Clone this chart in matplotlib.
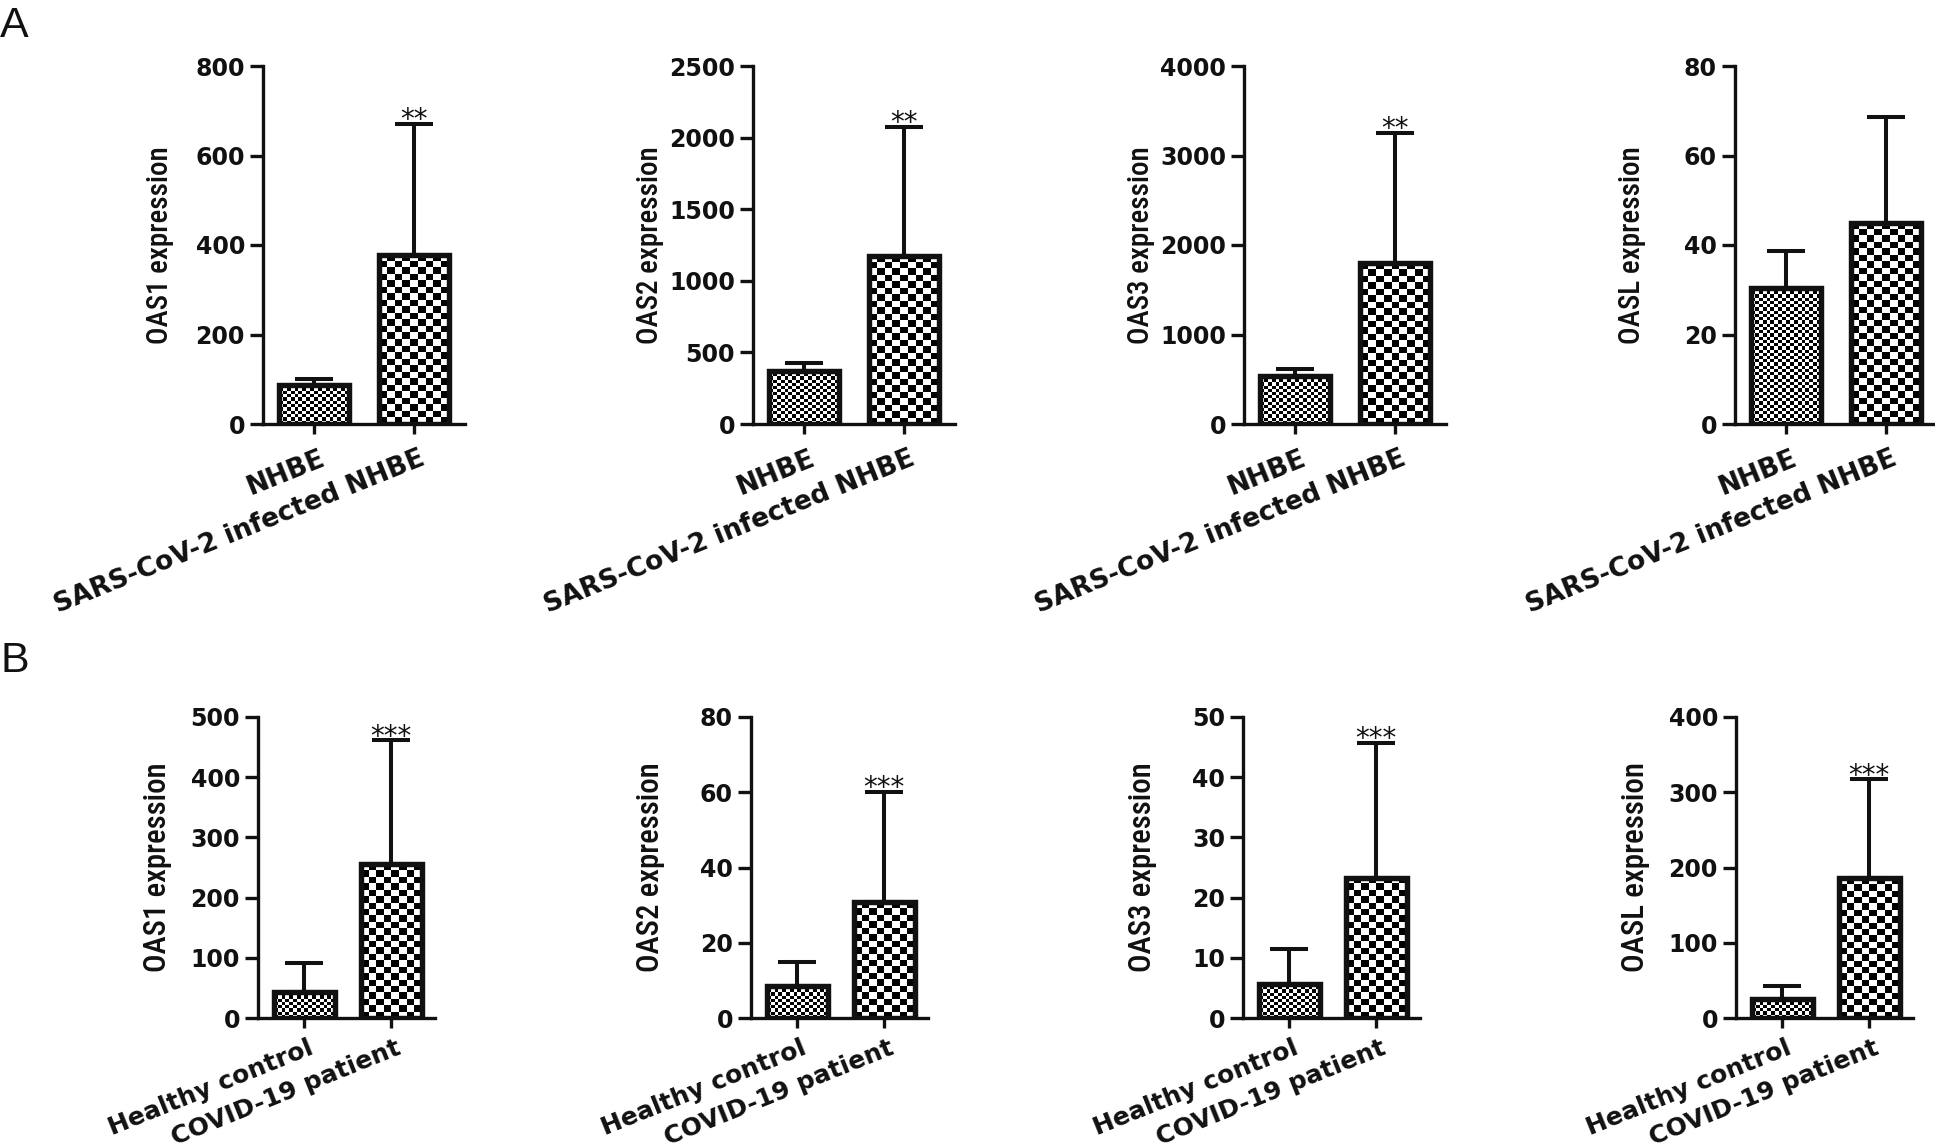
import numpy as np
import matplotlib
matplotlib.use("Agg")
import matplotlib.pyplot as plt
from matplotlib import font_manager
from matplotlib.transforms import ScaledTranslation

# ---------------- data ----------------
genes = ["OAS1", "OAS2", "OAS3", "OASL"]

groups_A = ["NHBE", "SARS-CoV-2 infected NHBE"]
A_means = [[88, 378], [372, 1175], [535, 1795], [30.3, 45]]
A_upper = [[100, 670], [425, 2075], [610, 3255], [38.7, 68.5]]
A_ymax = [800, 2500, 4000, 80]
A_ystep = [200, 500, 1000, 20]
A_stars = ["**", "**", "**", ""]

groups_B = ["Healthy control", "COVID-19 patient"]
B_means = [[43, 255], [8.5, 30.7], [5.7, 23.3], [25.6, 186]]
B_upper = [[92, 461], [15, 60], [11.4, 45.7], [43, 317]]
B_ymax = [500, 80, 50, 400]
B_ystep = [100, 20, 10, 100]
B_stars = ["***", "***", "***", "***"]

# ---------------- style ----------------
plt.rcParams["font.family"] = ["DejaVu Sans"]

# pick a narrow/condensed family for the y labels if one is installed
ylab_kw = {"family": "Liberation Sans"}
_fonts = font_manager.fontManager.ttflist
_pref = ["Liberation Sans Narrow", "Roboto Condensed", "Open Sans Condensed",
         "DejaVu Sans Condensed", "Noto Sans Condensed"]
_names = {f.name for f in _fonts}
_found = None
for p in _pref:
    if p in _names:
        _found = {"family": p}
        break
if _found is None:
    for f in _fonts:
        if f.stretch in ("condensed", "semi-condensed", "extra-condensed") and \
                f.style == "normal" and f.weight in (400, "normal", "regular"):
            _found = {"family": f.name, "fontstretch": f.stretch}
            break
if _found is None:
    for n in sorted(_names):
        if "Narrow" in n or "Condensed" in n:
            _found = {"family": n}
            break
if _found is not None:
    ylab_kw = _found
ylab_kw["fontweight"] = "medium"

W, H = 1935, 1148
DPI = 100
fig = plt.figure(figsize=(W / DPI, H / DPI), dpi=DPI)
renderer = fig.canvas.get_renderer()

LW_SPINE = 2.4
LW_EDGE = 3.9
LW_ERR = 2.9
BAR_W = 0.70
FINE = (3.8, 3.2)
COARSE = (7.5, 6.5)
INK = "#111111"


def add_checker(ax, x0, x1, h, cell):
    (px0, py0) = ax.transData.transform((x0, 0))
    (px1, py1) = ax.transData.transform((x1, h))
    ncols = max(1, int(round((px1 - px0) / cell[0])))
    nrows = max(1, int(round((py1 - py0) / cell[1])))
    arr = np.add.outer(np.arange(nrows), np.arange(ncols)) % 2
    ax.imshow(arr, cmap="gray", vmin=0, vmax=1, extent=(x0, x1, 0, h),
              origin="lower", interpolation="nearest", aspect="auto", zorder=3)


def panel(left_px, width_px, top_px, bottom_px, xlim, groups, means, upper,
          ymax, ystep, stars, ylabel, ylab_x, ylab_len, xlab_size, xoff):
    ax = fig.add_axes([left_px / W, 1 - bottom_px / H, width_px / W,
                       (bottom_px - top_px) / H])
    x = np.arange(len(groups))
    ax.set_xlim(*xlim)
    ax.set_ylim(0, ymax)
    means = np.asarray(means, float)
    sd = np.asarray(upper, float) - means
    bars = ax.bar(x, means, width=BAR_W, facecolor="none", edgecolor=INK,
                  linewidth=LW_EDGE, zorder=4)
    for i, b in enumerate(bars):
        add_checker(ax, b.get_x(), b.get_x() + b.get_width(), b.get_height(),
                    FINE if i == 0 else COARSE)
    ax.set_xlim(*xlim)
    ax.set_ylim(0, ymax)
    ax.errorbar(x, means, yerr=[np.zeros_like(sd), sd], fmt="none",
                ecolor=INK, elinewidth=LW_ERR, capsize=13.5,
                capthick=LW_ERR, zorder=2)
    if stars:
        ax.annotate(stars, xy=(x[1], means[1] + sd[1]), xytext=(0, -3),
                    textcoords="offset points", ha="center", va="baseline",
                    fontsize=20, color=INK, annotation_clip=False)
    for s in ["top", "right"]:
        ax.spines[s].set_visible(False)
    for s in ["left", "bottom"]:
        ax.spines[s].set_linewidth(LW_SPINE)
        ax.spines[s].set_color(INK)
    ticks = np.arange(0, ymax + ystep / 2, ystep)
    ax.set_yticks(ticks)
    ax.set_yticklabels([f"{int(t)}" for t in ticks], fontsize=17,
                       fontweight="bold", color=INK)
    ax.tick_params(axis="y", length=9.4, width=LW_SPINE, pad=3.6, color=INK)
    ax.set_xticks(x)
    ax.set_xticklabels(groups, rotation=22, ha="right", va="top",
                       rotation_mode="anchor", fontsize=xlab_size,
                       fontweight="bold", color=INK)
    ax.tick_params(axis="x", length=7.2, width=LW_SPINE, pad=3.5, color=INK)
    off = ScaledTranslation(xoff[0] / DPI, xoff[1] / DPI, fig.dpi_scale_trans)
    for lbl in ax.get_xticklabels():
        lbl.set_transform(lbl.get_transform() + off)
    lab = ax.set_ylabel(ylabel, fontsize=20, va="center", color=INK,
                        **ylab_kw)
    ax.yaxis.set_label_coords(ylab_x, 0.5)
    # size the label so that its length matches the reference
    ext = lab.get_window_extent(renderer=renderer)
    if ext.height > 0:
        lab.set_fontsize(20 * ylab_len / ext.height)
    ax.patch.set_visible(False)
    return ax


A_left = [263, 753, 1244, 1735]
B_left = [258, 751, 1243, 1736]

for i, g in enumerate(genes):
    panel(A_left[i], 202, 66, 424, (-0.51, 1.51), groups_A, A_means[i],
          A_upper[i], A_ymax[i], A_ystep[i], A_stars[i], f"{g} expression",
          -0.51, 198, 19, (5, -7))
    panel(B_left[i], 177, 717, 1018, (-0.53, 1.504), groups_B, B_means[i],
          B_upper[i], B_ymax[i], B_ystep[i], B_stars[i], f"{g} expression",
          -0.565, 210, 18, (4, -3))

fig.text(0 / W, 1 - 37 / H, "A", fontsize=31, family="Liberation Sans",
         ha="left", va="baseline", color=INK)
fig.text(1 / W, 1 - 672 / H, "B", fontsize=31, family="Liberation Sans",
         ha="left", va="baseline", color=INK)

fig.savefig("out.png", dpi=DPI)
